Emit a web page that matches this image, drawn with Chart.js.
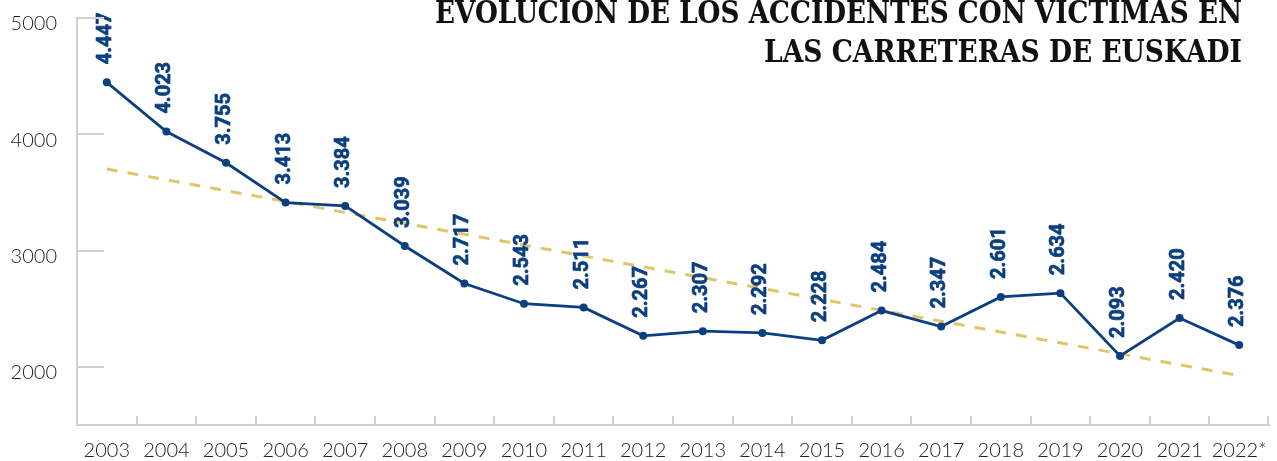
<!DOCTYPE html>
<html>
<head>
<meta charset="utf-8">
<script src="https://cdn.jsdelivr.net/npm/chart.js@4/dist/chart.umd.min.js"></script>
<style>
  html, body { margin: 0; padding: 0; background: #ffffff; }
  #wrap { position: relative; width: 1277px; height: 461px; }
</style>
</head>
<body>
<div id="wrap"><canvas id="c" width="1277" height="461"></canvas></div>
<script>
// ---- data ----
const years = ['2003','2004','2005','2006','2007','2008','2009','2010','2011','2012','2013','2014','2015','2016','2017','2018','2019','2020','2021','2022*'];
const accidents = [4447, 4023, 3755, 3413, 3384, 3039, 2717, 2543, 2511, 2267, 2307, 2292, 2228, 2484, 2347, 2601, 2634, 2093, 2420, 2187];
const valueLabels = ['4.447','4.023','3.755','3.413','3.384','3.039','2.717','2.543','2.511','2.267','2.307','2.292','2.228','2.484','2.347','2.601','2.634','2.093','2.420','2.376'];
const trendEnds = [3702, null, null, null, null, null, null, null, null, null, null, null, null, null, null, null, null, null, null, 1925];
const yTickValues = [2000, 3000, 4000, 5000];
const titleLines = ['EVOLUCIÓN DE LOS ACCIDENTES CON VÍCTIMAS EN', 'LAS CARRETERAS DE EUSKADI'];

const BLUE = '#0b3f80';
const GOLD = '#dfc66b';
const AXIS = '#cfcfcf';

const inwardTicks = {
  id: 'inwardTicks',
  afterDraw(chart) {
    const ctx = chart.ctx, x = chart.scales.x, y = chart.scales.y;
    ctx.save();
    ctx.strokeStyle = AXIS;
    ctx.lineWidth = 2;
    yTickValues.forEach(v => {
      const py = Math.round(y.getPixelForValue(v));
      ctx.beginPath();
      ctx.moveTo(x.left, py);
      ctx.lineTo(x.left + 27, py);
      ctx.stroke();
    });
    const n = years.length;
    for (let i = 1; i <= n; i++) {
      let px;
      if (i < n) px = (x.getPixelForTick(i - 1) + x.getPixelForTick(i)) / 2;
      else px = x.right - 1;
      px = Math.round(px);
      ctx.beginPath();
      ctx.moveTo(px, y.bottom);
      ctx.lineTo(px, y.bottom - 9);
      ctx.stroke();
    }
    ctx.restore();
  }
};

const valueLabelPlugin = {
  id: 'valueLabels',
  afterDatasetsDraw(chart) {
    const ctx = chart.ctx;
    const meta = chart.getDatasetMeta(0);
    ctx.save();
    ctx.fillStyle = BLUE;
    ctx.strokeStyle = BLUE;
    ctx.lineWidth = 0.7;
    ctx.lineJoin = 'round';
    ctx.font = 'bold 20px Roboto';
    ctx.textAlign = 'left';
    ctx.textBaseline = 'middle';
    meta.data.forEach((pt, i) => {
      ctx.save();
      ctx.translate(pt.x - 1, pt.y - 18);
      ctx.rotate(-Math.PI / 2);
      ctx.fillText(valueLabels[i], 0, 0);
      ctx.strokeText(valueLabels[i], 0, 0);
      ctx.restore();
    });
    ctx.restore();
  }
};

const titlePlugin = {
  id: 'bigTitle',
  afterDraw(chart) {
    const ctx = chart.ctx;
    ctx.save();
    ctx.fillStyle = '#111111';
    ctx.font = 'bold 31px "DejaVu Serif"';
    ctx.textAlign = 'right';
    ctx.textBaseline = 'alphabetic';
    const specs = [{ text: titleLines[0], base: 23, width: 807 }, { text: titleLines[1], base: 62, width: 478 }];
    specs.forEach(s => {
      const w = ctx.measureText(s.text).width;
      ctx.save();
      ctx.translate(1242, s.base);
      ctx.scale(s.width / w, 1);
      ctx.fillText(s.text, 0, 0);
      ctx.restore();
    });
    ctx.restore();
  }
};

const tickFont = { family: 'Lato', size: 20, weight: '300' };

new Chart(document.getElementById('c'), {
  type: 'line',
  data: {
    labels: years,
    datasets: [
      {
        data: accidents,
        borderColor: BLUE,
        backgroundColor: BLUE,
        borderWidth: 2.8,
        pointRadius: 4,
        pointBackgroundColor: BLUE,
        pointBorderWidth: 0,
        tension: 0,
        order: 1
      },
      {
        data: trendEnds,
        spanGaps: true,
        borderColor: GOLD,
        borderWidth: 3,
        borderDash: [11, 10],
        pointRadius: 0,
        tension: 0,
        order: 2
      }
    ]
  },
  options: {
    responsive: false,
    animation: false,
    devicePixelRatio: 1,
    layout: { padding: { left: 0, right: 8, top: 18, bottom: 0 } },
    plugins: { legend: { display: false }, tooltip: { enabled: false }, title: { display: false } },
    scales: {
      x: {
        type: 'category',
        offset: true,
        grid: { display: true, drawOnChartArea: false, drawTicks: false },
        border: { display: true, color: AXIS, width: 2 },
        ticks: { font: tickFont, color: '#1e1e1e', padding: 14, maxRotation: 0, autoSkip: false },
        afterFit: s => { s.height = 36; s.paddingLeft = 0; s.paddingRight = 0; }
      },
      y: {
        min: 1500,
        max: 5000,
        afterBuildTicks: s => { s.ticks = yTickValues.map(v => ({ value: v })); },
        grid: { display: true, drawOnChartArea: false, drawTicks: false },
        border: { display: true, color: AXIS, width: 2 },
        ticks: { font: tickFont, color: '#1e1e1e', padding: 20, labelOffset: 6, callback: v => String(v) },
        afterFit: s => { s.width = 77; s.paddingTop = 0; s.paddingBottom = 0; }
      }
    }
  },
  plugins: [inwardTicks, valueLabelPlugin, titlePlugin]
});
</script>
</body>
</html>
